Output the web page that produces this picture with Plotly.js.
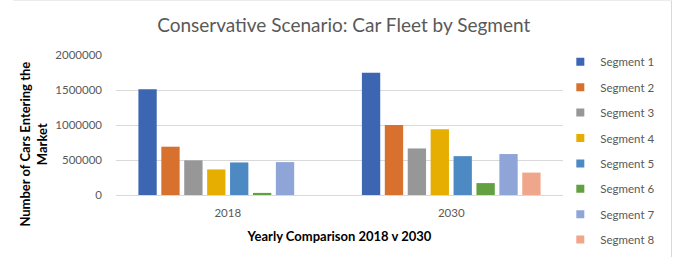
<!DOCTYPE html>
<html>
<head>
<meta charset="utf-8">
<script src="https://cdn.plot.ly/plotly-3.0.1.min.js"></script>
<style>
  html, body { margin: 0; padding: 0; background: #fff; }
  #chart { width: 674px; height: 257px; }
</style>
</head>
<body>
<div id="chart"></div>
<script>
// Car fleet entering the market, conservative scenario
const years = ['2018', '2030'];
const segments = ['Segment 1', 'Segment 2', 'Segment 3', 'Segment 4',
                  'Segment 5', 'Segment 6', 'Segment 7', 'Segment 8'];
const cars2018 = [1510000, 690000, 495000, 365000, 465000, 30000, 470000, 0];
const cars2030 = [1745000, 1000000, 665000, 940000, 555000, 170000, 585000, 320000];
const colors = ['#3d66b2', '#d9712e', '#979797', '#e6ae00',
                '#4d8ac4', '#62a041', '#8fa5d8', '#f0a68a'];

// bars (legend drawn by the small square-marker entries below)
const bars = segments.map((name, i) => ({
  type: 'bar',
  name: name,
  x: years,
  y: [cars2018[i], cars2030[i]],
  marker: { color: colors[i] },
  showlegend: false
}));

// compact square legend keys
const keys = segments.map((name, i) => ({
  type: 'scatter',
  mode: 'markers',
  name: name,
  x: [null],
  y: [null],
  marker: { color: colors[i], symbol: 'square', size: 8 },
  legendgroup: 'k' + i,
  showlegend: true
}));

const grey = '#595959';
const layout = {
  width: 674,
  height: 257,
  margin: { l: 116, r: 111, t: 55, b: 62, autoexpand: false },
  paper_bgcolor: '#ffffff',
  plot_bgcolor: '#ffffff',
  font: { family: 'Lato, "Open Sans", sans-serif', color: grey },
  title: {
    text: 'Conservative Scenario: Car Fleet by Segment',
    font: { size: 19, color: grey },
    x: 0.51, xanchor: 'center',
    y: 0.9, yanchor: 'middle', yref: 'container'
  },
  barmode: 'group',
  bargap: 0.18,
  bargroupgap: 0.2,
  xaxis: {
    type: 'category',
    tickfont: { size: 11.5, color: grey },
    ticks: '',
    ticklabelstandoff: 7,
    showline: true,
    linecolor: '#d9d9d9',
    title: {
      text: '<b>Yearly Comparison 2018 v 2030</b>',
      font: { size: 13, color: '#000000' },
      standoff: 14
    }
  },
  yaxis: {
    range: [0, 2000000],
    tickvals: [0, 500000, 1000000, 1500000, 2000000],
    ticktext: ['0', '500000', '1000000', '1500000', '2000000'],
    tickfont: { size: 11.5, color: grey },
    gridcolor: '#d9d9d9',
    zeroline: false,
    ticks: '',
    ticklabelstandoff: 13
  },
  annotations: [{
    text: '<b>Number of Cars Entering the<br>Market</b>',
    xref: 'paper', yref: 'paper',
    x: -0.1834, y: 0.36,
    xanchor: 'center', yanchor: 'middle',
    textangle: -90,
    showarrow: false,
    font: { size: 13, color: '#000000' }
  }],
  legend: {
    x: 0.994, xanchor: 'left',
    y: 1.055, yanchor: 'top',
    font: { size: 11.5, color: grey },
    tracegroupgap: 6.4,
    itemwidth: 30,
    maxheight: 260,
    bgcolor: 'rgba(0,0,0,0)'
  },
  shapes: [
    { type: 'line', xref: 'paper', yref: 'paper',
      x0: 1.2427, x1: 1.2427, y0: -0.45, y1: 1.389,
      line: { color: '#d9d9d9', width: 1 } },
    { type: 'line', xref: 'paper', yref: 'paper',
      x0: -0.23, x1: 1.2427, y0: 1.389, y1: 1.389,
      line: { color: '#ececec', width: 1 } }
  ]
};

Plotly.newPlot('chart', bars.concat(keys), layout, { displayModeBar: false, staticPlot: true });
</script>
</body>
</html>
